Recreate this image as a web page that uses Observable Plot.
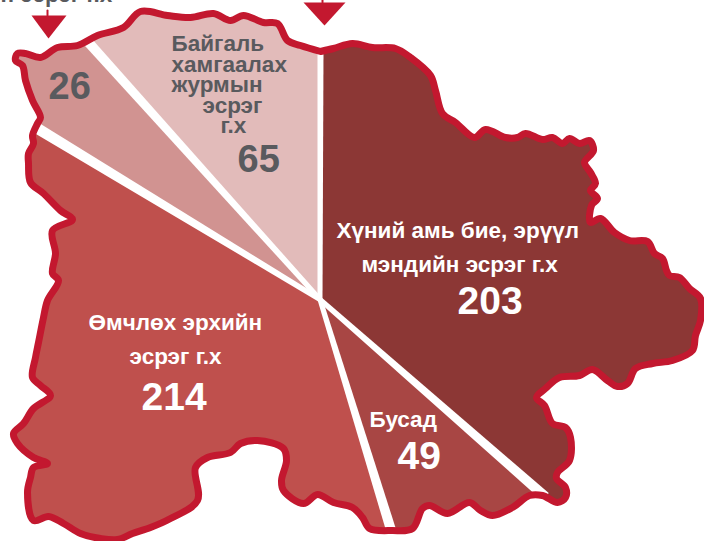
<!DOCTYPE html>
<html>
<head>
<meta charset="utf-8">
<script src="https://cdn.jsdelivr.net/npm/d3@7"></script>
<script src="https://cdn.jsdelivr.net/npm/@observablehq/plot@0.6"></script>
<style>
html,body{margin:0;padding:0;background:#fff}
svg{display:block}
</style>
</head>
<body>
<div id="chart"></div>
<script>
// Slices, clockwise from 12 o'clock
const categories = ["Хүний амь бие, эрүүл мэндийн эсрэг г.х", "Бусад", "Өмчлөх эрхийн эсрэг г.х", "26", "Байгаль хамгаалах журмын эсрэг г.х"];
const values = [203, 49, 214, 26, 65];
const sliceColors = ["#8C3735", "#A84644", "#BF504D", "#D19391", "#E2BBBA"];
const dividerWidths = [6, 10, 10, 11, 10];

// Regional outline (clockwise, starting at the top)
const outlineX = [320,333,352,372,395,410,430,435,442,455,474,485,505,517,525,542,552,562,569,579,589,593,584,590,595,590,597,591,590,600,614,629,647,654,662,666,669,679,689,700,700,695,692,672,652,635,627,617,607,592,579,559,545,536,544,552,565,570,569,557,556,565,565,557,542,529,512,492,480,469,447,429,422,412,392,369,362,352,333,317,303,283,281,286,283,257,240,230,207,195,197,170,150,132,117,100,80,63,48,33,27,30,33,47,33,17,13,23,33,50,40,32,35,38,43,47,58,52,55,52,72,60,43,30,28,28,33,32,37,40,32,25,22,15,17,25,40,57,77,97,123,140,167,190,213,230,243,263,277,287,300,320];
const outlineY = [51,48,43,47,48,57,75,90,113,122,137,129,137,137,133,139,137,143,138,143,140,150,162,172,183,190,198,205,222,218,232,240,241,253,258,270,275,277,288,298,320,335,350,360,363,368,383,386,380,369,375,377,388,397,405,423,427,437,460,472,478,487,497,502,495,495,507,515,510,502,513,505,508,528,530,528,517,507,502,494,503,490,480,460,448,440,443,452,457,467,500,518,527,533,539,538,533,523,516,520,492,477,467,463,457,443,433,423,408,395,385,377,357,342,317,300,280,273,253,230,219,210,193,182,163,153,143,135,123,117,100,80,65,60,53,53,57,47,45,35,27,11,15,17,13,20,15,22,23,40,45,51];

const centerX = 319.5, centerY = 299;

// Markers and text
const arrowX = [47,47,31,66,48, 322,322,303,345,324];
const arrowY = [10,15,15,15,38,  -3,2,2,2,25];

const labelText = ["Байгаль","хамгаалах","журмын","эсрэг","г.х","65","26","Хүний амь бие, эрүүл","мэндийн эсрэг г.х","203","Бусад","49","Өмчлөх эрхийн","эсрэг г.х","214","н эсрэг г.х"];
const labelX =    [171,171,171,202,220,237,48,336,361,457,369,397,88,129,141,0];
const labelY =    [50.5,71.5,91.5,112.5,132.5,171,98,237,271,313,426,468,329,363,409,1];
const labelSize = [22.5,22.5,22.5,22.5,22.5,38,38,22.5,22.5,39,22.5,39,22.5,22.5,39,22.5];
const labelFill = ["#595A5E","#595A5E","#595A5E","#595A5E","#595A5E","#595A5E","#595A5E","#fff","#fff","#fff","#fff","#fff","#fff","#fff","#fff","#595A5E"];

// Derive the wedges from the values
const outline = outlineX.map((x, i) => ({x, y: outlineY[i]}));
const total = d3.sum(values);
const splits = [0, ...Array.from(d3.cumsum(values), v => v / total * 2 * Math.PI)];
const angleOf = p => Math.atan2(p.x - centerX, centerY - p.y);

// Unwrap the angle along the outline
const theta = [angleOf(outline[0])];
for (let i = 1; i < outline.length; i++) {
  let d = angleOf(outline[i]) - angleOf(outline[i - 1]);
  while (d > Math.PI) d -= 2 * Math.PI;
  while (d <= -Math.PI) d += 2 * Math.PI;
  theta.push(theta[i - 1] + d);
}

function crossing(s) {
  for (let i = 0; i < outline.length - 1; i++) {
    if (theta[i] <= s && s <= theta[i + 1]) {
      const dx = Math.sin(s), dy = -Math.cos(s);
      const a = outline[i], b = outline[i + 1];
      const ex = b.x - a.x, ey = b.y - a.y;
      const den = ex * dy - ey * dx;
      const t = den === 0 ? 0 : ((centerX - a.x) * dy - (centerY - a.y) * dx) / den;
      const tt = Math.max(0, Math.min(1, t));
      return {i, p: {x: a.x + tt * ex, y: a.y + tt * ey}};
    }
  }
  return {i: s <= 0 ? 0 : outline.length - 2, p: s <= 0 ? outline[0] : outline[outline.length - 1]};
}

const crossings = splits.map(crossing);
const center = {x: centerX, y: centerY};
const wedges = values.map((v, k) => {
  const c0 = crossings[k], c1 = crossings[k + 1];
  return [center, c0.p, ...outline.slice(c0.i + 1, c1.i + 1), c1.p];
});

// Tapered white dividers, one per slice start
const dividers = values.map((v, k) => {
  const end = crossings[k].p;
  const s = splits[k];
  const nx = Math.cos(s), ny = Math.sin(s);
  const w0 = 2.5, w1 = dividerWidths[k] / 2;
  return [
    {x: centerX - nx * w0, y: centerY - ny * w0},
    {x: end.x - nx * w1, y: end.y - ny * w1},
    {x: end.x + nx * w1, y: end.y + ny * w1},
    {x: centerX + nx * w0, y: centerY + ny * w0}
  ];
});

const arrows = arrowX.map((x, i) => ({x, y: arrowY[i]}));
const labels = labelText.map((text, i) => ({text, x: labelX[i], y: labelY[i], size: labelSize[i], fill: labelFill[i]}));

const sizes = [...new Set(labelSize)];
const chart = Plot.plot({
  width: 704,
  height: 541,
  margin: 0,
  x: {domain: [0, 704], range: [0, 704], axis: null},
  y: {domain: [0, 541], range: [0, 541], axis: null},
  style: {background: "#fff", fontFamily: "'Liberation Sans', Arial, sans-serif"},
  marks: [
    ...wedges.map((w, k) => Plot.line(w, {x: "x", y: "y", fill: sliceColors[k], stroke: sliceColors[k], strokeWidth: 0.5})),
    ...dividers.map(d => Plot.line(d, {x: "x", y: "y", fill: "#fff", stroke: "none"})),
    Plot.line(outline, {x: "x", y: "y", curve: "catmull-rom", stroke: "#C3182F", strokeWidth: 7, strokeLinejoin: "round", strokeLinecap: "round"}),
    Plot.line(arrows.slice(2, 5), {x: "x", y: "y", fill: "#C3182F", stroke: "none"}),
    Plot.line(arrows.slice(7, 10), {x: "x", y: "y", fill: "#C3182F", stroke: "none"}),
    Plot.line(arrows.slice(0, 2), {x: "x", y: "y", stroke: "#C3182F", strokeWidth: 2}),
    Plot.line(arrows.slice(5, 7), {x: "x", y: "y", stroke: "#C3182F", strokeWidth: 2}),
    ...sizes.map(sz => Plot.text(labels.filter(d => d.size === sz), {
      x: "x", y: "y", text: "text", fill: "fill", fontSize: sz, fontWeight: "bold",
      textAnchor: "start", lineAnchor: "bottom"
    }))
  ]
});
document.getElementById("chart").append(chart);
</script>
</body>
</html>
